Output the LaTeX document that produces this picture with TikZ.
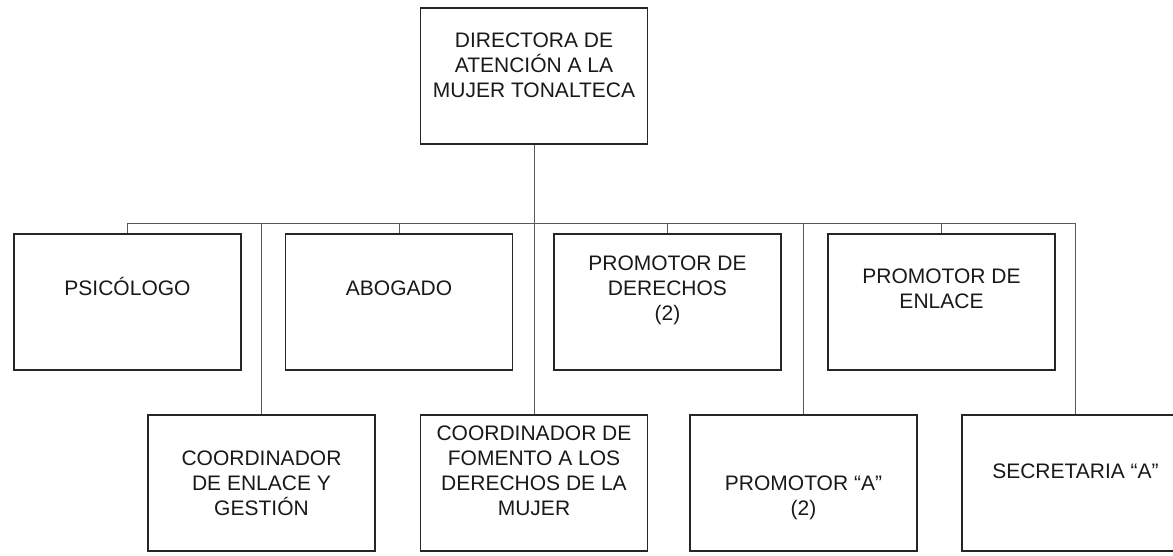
\documentclass[tikz,border=0pt]{standalone}
\usepackage{fontspec}
\setmainfont{Liberation Sans}
\newcommand\orgfs{\fontsize{21pt}{25pt}\selectfont}
\newcommand\ls{\rule[-5pt]{0pt}{25pt}}
\begin{document}
\begin{tikzpicture}[x=1pt,y=-1pt,
  orgbox/.style={draw=black!85, line width=1.1pt, minimum width=227pt, minimum height=136pt, inner sep=0pt},
  orgtxt/.style={align=center, font=\orgfs, inner sep=0pt, text=black!90},
  link/.style={draw=black!65, line width=0.8pt}]
\useasboundingbox (0,0) rectangle (1173,555);
\clip (0,0) rectangle (1173,555);
% boxes
\node[orgbox] (dir) at (534,76) {};
\node[orgbox] (psi) at (127.5,302) {};
\node[orgbox] (abo) at (399,302) {};
\node[orgbox] (der) at (667.5,302) {};
\node[orgbox] (enl) at (941.5,302) {};
\node[orgbox] (ceg) at (261.5,483) {};
\node[orgbox] (fom) at (534,483) {};
\node[orgbox] (pra) at (803.5,483) {};
\node[orgbox] (sec) at (1075.5,483) {};
% texts
\node[orgtxt] (dirt) at (534,64.5) {\ls DIRECTORA DE\\\ls ATENCIÓN A LA\\\ls MUJER TONALTECA};
\node[orgtxt] (psit) at (127.5,288) {\ls PSICÓLOGO};
\node[orgtxt] (abot) at (399,288) {\ls ABOGADO};
\node[orgtxt] (dert) at (667.5,288) {\ls PROMOTOR DE\\\ls DERECHOS\\\ls (2)};
\node[orgtxt] (enlt) at (941.5,288) {\ls PROMOTOR DE\\\ls ENLACE};
\node[orgtxt] (cegt) at (261.5,482.5) {\ls COORDINADOR\\\ls DE ENLACE Y\\\ls GESTIÓN};
\node[orgtxt] (fomt) at (534,470) {\ls COORDINADOR DE\\\ls FOMENTO A LOS\\\ls DERECHOS DE LA\\\ls MUJER};
\node[orgtxt] (prat) at (803.5,495) {\ls PROMOTOR “A”\\\ls (2)};
\node[orgtxt] (sect) at (1075.5,471) {\ls SECRETARIA “A”};
% connectors
\coordinate (bar) at (0,223);
\draw[link] (dir.south) -- (fom.north);
\draw[link] (psi.north) -- (psi.north |- bar) -- (sec.north |- bar) -- (sec.north);
\draw[link] (abo.north) -- (abo.north |- bar);
\draw[link] (der.north) -- (der.north |- bar);
\draw[link] (enl.north) -- (enl.north |- bar);
\draw[link] (ceg.north) -- (ceg.north |- bar);
\draw[link] (pra.north) -- (pra.north |- bar);
\end{tikzpicture}
\end{document}
